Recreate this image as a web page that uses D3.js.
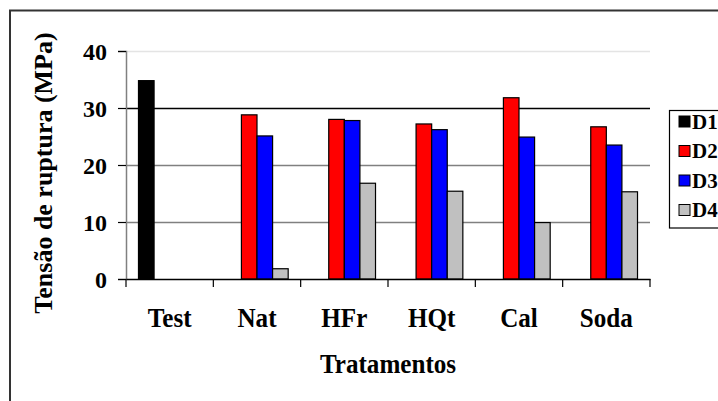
<!DOCTYPE html>
<html>
<head>
<meta charset="utf-8">
<script src="https://cdn.jsdelivr.net/npm/d3@7"></script>
<style>
  html, body { margin: 0; padding: 0; background: #fff; }
  svg { display: block; }
  text { font-family: "Liberation Serif", "Times New Roman", serif !important; font-weight: bold; fill: #000; }
</style>
</head>
<body>
<svg id="chart" width="718" height="401"></svg>
<script>
const categories = ["Test", "Nat", "HFr", "HQt", "Cal", "Soda"];
const seriesNames = ["D1", "D2", "D3", "D4"];
const D1 = [34.8, null, null, null, null, null];
const D2 = [null, 28.8, 28.0, 27.2, 31.8, 26.7];
const D3 = [null, 25.1, 27.8, 26.2, 24.9, 23.5];
const D4 = [null, 1.8, 16.8, 15.4, 9.9, 15.3];
const yTicks = [0, 10, 20, 30, 40];
const colors = ["#000000", "#ff0000", "#0000ff", "#c0c0c0"];
const xTitle = "Tratamentos";
const yTitle = "Tensão de ruptura (MPa)";

const seriesValues = [D1, D2, D3, D4];

const svg = d3.select("#chart");

// outer frame (extends beyond the window on right and bottom)
svg.append("path")
  .attr("d", "M10,430 L10,10.5 L760,10.5")
  .attr("fill", "none").attr("stroke", "#333").attr("stroke-width", 2);

const pLeft = 126, pRight = 650, pTop = 51, pBottom = 279;

const x = d3.scaleBand().domain(categories).range([pLeft, pRight]).padding(0);
const bw = x.bandwidth();
const xs = d3.scaleBand().domain(seriesNames).range([bw * 0.143, bw * 0.857]).padding(0);
const y = d3.scaleLinear().domain([0, 40]).range([pBottom, pTop]);

// gridlines
const gridColor = v => v === 40 ? "#e4e4e4" : (v === 30 ? "#000" : "#808080");
svg.append("g").selectAll("line").data(yTicks.filter(v => v > 0)).join("line")
  .attr("x1", pLeft).attr("x2", pRight)
  .attr("y1", d => Math.round(y(d)) + 0.5).attr("y2", d => Math.round(y(d)) + 0.5)
  .attr("stroke", d => gridColor(d)).attr("stroke-width", 1.5);

// bars
const barData = [];
seriesValues.forEach((vals, si) => {
  vals.forEach((v, ci) => {
    if (v != null) barData.push({ s: seriesNames[si], c: categories[ci], v, color: colors[si] });
  });
});
svg.append("g").selectAll("rect").data(barData).join("rect")
  .attr("x", d => x(d.c) + xs(d.s))
  .attr("width", xs.bandwidth())
  .attr("y", d => y(d.v))
  .attr("height", d => y(0) - y(d.v))
  .attr("fill", d => d.color)
  .attr("stroke", "#000").attr("stroke-width", 1.2);

// y axis
const yAxis = svg.append("g").attr("transform", `translate(${pLeft},0)`)
  .call(d3.axisLeft(y).tickValues(yTicks).tickSize(8).tickPadding(11).tickFormat(d3.format("d")))
  .attr("font-family", null).attr("font-size", null);
yAxis.select(".domain").attr("stroke", "#808080").attr("stroke-width", 1.5);
yAxis.selectAll(".tick line").attr("stroke", "#000").attr("stroke-width", 1.2);
yAxis.selectAll(".tick text")
  .style("font-size", "24px").attr("fill", "#000").attr("dy", "0.34em");

// x axis
const xAxis = svg.append("g").attr("transform", `translate(0,${pBottom})`)
  .call(d3.axisBottom(x).tickSize(0).tickPadding(0).tickFormat(""));
xAxis.select(".domain").attr("stroke", "#000").attr("stroke-width", 1.5);
xAxis.selectAll(".tick").remove();
const bounds = categories.map(c => x(c)).concat([x.range()[1]]);
xAxis.selectAll("line.sep").data(bounds).join("line").attr("class", "sep")
  .attr("x1", d => d).attr("x2", d => d).attr("y1", 0).attr("y2", 8)
  .attr("stroke", "#000").attr("stroke-width", 1.2);

// category labels (slightly condensed like the original)
svg.append("g").selectAll("text").data(categories).join("text")
  .attr("transform", d => `translate(${x(d) + bw / 2},327) scale(0.93,1)`)
  .attr("text-anchor", "middle").style("font-size", "27px").text(d => d);

// axis titles
svg.append("text").attr("transform", `translate(${(pLeft + pRight) / 2},373) scale(0.93,1)`)
  .attr("text-anchor", "middle").style("font-size", "27px").text(xTitle);
svg.append("text").attr("transform", "translate(52,173) scale(0.93,1) rotate(-90)")
  .attr("text-anchor", "middle").style("font-size", "26px").text(yTitle);

// legend
const lg = svg.append("g");
lg.append("rect").attr("x", 669.5).attr("y", 110.5).attr("width", 80).attr("height", 117.5)
  .attr("fill", "#fff").attr("stroke", "#000").attr("stroke-width", 1.2);
const rows = lg.selectAll("g.row").data(seriesNames).join("g").attr("class", "row")
  .attr("transform", (d, i) => `translate(679,${121.5 + i * 29.5})`);
rows.append("rect").attr("x", 0).attr("y", -5.5).attr("width", 11).attr("height", 11)
  .attr("fill", (d, i) => colors[i]).attr("stroke", "#000").attr("stroke-width", 1);
rows.append("text").attr("x", 13).attr("y", 0).attr("dy", "0.35em")
  .style("font-size", "21px").text(d => d);
</script>
</body>
</html>
